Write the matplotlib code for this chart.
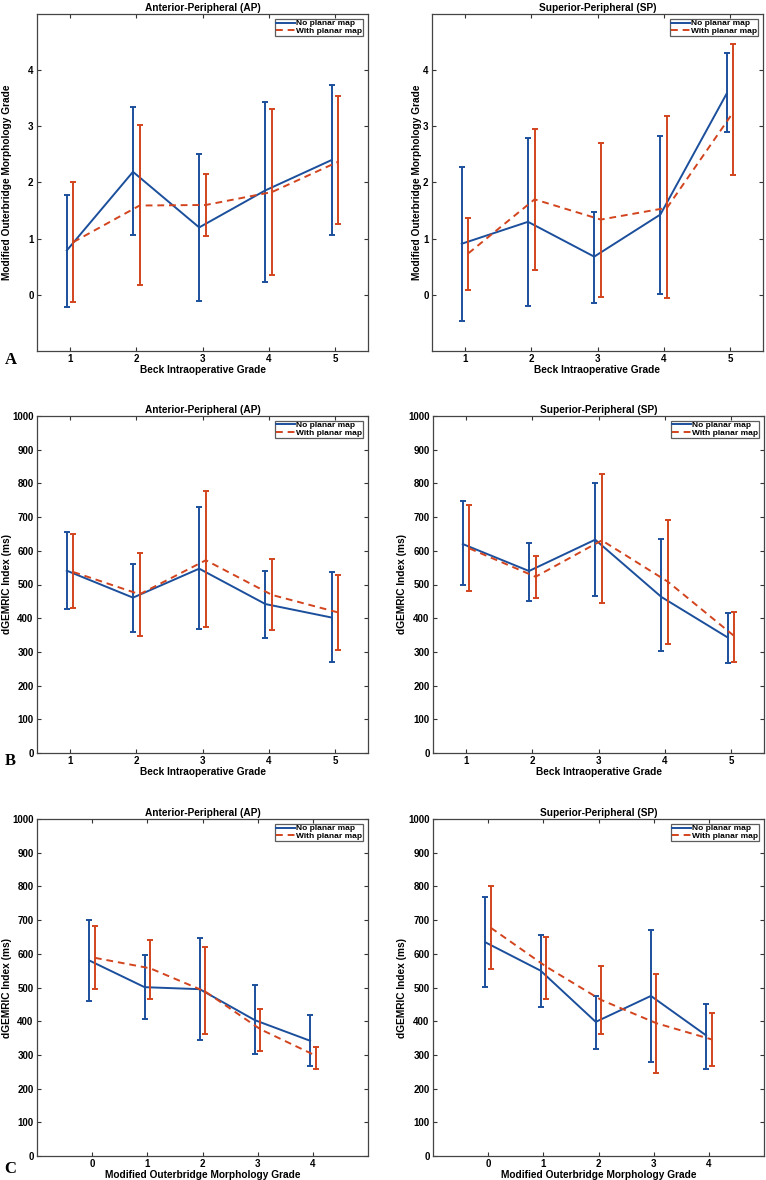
import matplotlib
matplotlib.use('Agg')
import matplotlib.pyplot as plt
import numpy as np

plt.rcParams['font.family'] = ['Liberation Sans', 'DejaVu Sans']
plt.rcParams['font.weight'] = 'bold'
plt.rcParams['axes.labelweight'] = 'bold'
plt.rcParams['axes.titleweight'] = 'bold'

# x categories
beck_grades = [1, 2, 3, 4, 5]
mo_grades = [0, 1, 2, 3, 4]
series_names = ['No planar map', 'With planar map']

# A: Modified Outerbridge grade vs Beck grade
a_ap_no_mean = [0.79, 2.19, 1.20, 1.86, 2.40]
a_ap_no_lo = [-0.22, 1.06, -0.11, 0.23, 1.06]
a_ap_no_hi = [1.78, 3.34, 2.50, 3.44, 3.74]
a_ap_with_mean = [0.94, 1.59, 1.60, 1.83, 2.37]
a_ap_with_lo = [-0.12, 0.17, 1.05, 0.36, 1.26]
a_ap_with_hi = [2.00, 3.03, 2.15, 3.31, 3.54]

a_sp_no_mean = [0.91, 1.30, 0.68, 1.43, 3.58]
a_sp_no_lo = [-0.47, -0.20, -0.15, 0.02, 2.90]
a_sp_no_hi = [2.28, 2.80, 1.48, 2.82, 4.30]
a_sp_with_mean = [0.74, 1.70, 1.34, 1.55, 3.25]
a_sp_with_lo = [0.08, 0.45, -0.03, -0.05, 2.14]
a_sp_with_hi = [1.37, 2.96, 2.70, 3.19, 4.47]

# B: dGEMRIC vs Beck grade
b_ap_no_mean = [541, 461, 547, 442, 402]
b_ap_no_lo = [426, 359, 367, 342, 270]
b_ap_no_hi = [656, 562, 730, 540, 536]
b_ap_with_mean = [537, 471, 572, 469, 417]
b_ap_with_lo = [429, 347, 373, 364, 305]
b_ap_with_hi = [651, 593, 778, 575, 528]

b_sp_no_mean = [620, 540, 633, 463, 343]
b_sp_no_lo = [498, 452, 466, 303, 268]
b_sp_no_hi = [747, 624, 800, 636, 414]
b_sp_with_mean = [607, 523, 631, 508, 347]
b_sp_with_lo = [482, 461, 446, 322, 271]
b_sp_with_hi = [736, 584, 828, 691, 418]

# C: dGEMRIC vs Modified Outerbridge grade
c_ap_no_mean = [580, 501, 495, 403, 342]
c_ap_no_lo = [461, 406, 344, 302, 266]
c_ap_no_hi = [700, 596, 646, 508, 417]
c_ap_with_mean = [588, 557, 488, 376, 298]
c_ap_with_lo = [496, 466, 361, 311, 257]
c_ap_with_hi = [682, 641, 619, 435, 324]

c_sp_no_mean = [634, 550, 398, 475, 358]
c_sp_no_lo = [502, 441, 318, 280, 259]
c_sp_no_hi = [769, 656, 474, 672, 452]
c_sp_with_mean = [677, 562, 463, 394, 346]
c_sp_with_lo = [556, 465, 362, 247, 267]
c_sp_with_hi = [802, 650, 564, 540, 425]

BLUE = '#1b4f9c'
RED = '#d2441e'
W, H = 766, 1180
FS = 7.3
TFS = 7.0

fig = plt.figure(figsize=(W / 100, H / 100), dpi=100)


def make_ax(x0, top, bottom, w=331):
    return fig.add_axes([x0 / W, 1 - bottom / H, w / W, (bottom - top) / H])


def draw(ax, x, no, with_, title, xlabel, ylabel, xlim, ylim, yticks, ylab_x):
    x = np.asarray(x, dtype=float)
    for (m, lo, hi), col, ls, dx, name in [
            (no, BLUE, '-', -0.05, series_names[0]),
            (with_, RED, (0, (3.5, 2.5)), 0.05, series_names[1])]:
        m = np.asarray(m, float)
        err = [m - np.asarray(lo, float), np.asarray(hi, float) - m]
        ax.errorbar(x + dx, m, yerr=err, fmt='none', ecolor=col, elinewidth=1.4,
                    capsize=2.2, capthick=1.4)
        ax.plot(x + dx, m, color=col, ls=ls, lw=1.4, label=name)
    ax.set_xlim(*xlim)
    ax.set_ylim(*ylim)
    ax.set_xticks(x)
    ax.set_yticks(yticks)
    ax.tick_params(direction='in', top=True, right=True, length=3, width=0.8,
                   labelsize=TFS, pad=2.5, color='#333333')
    for s in ax.spines.values():
        s.set_color('#444444')
        s.set_linewidth(0.9)
    ax.set_title(title, fontsize=FS, pad=2.5)
    ax.set_xlabel(xlabel, fontsize=FS, labelpad=0.3)
    ax.set_ylabel(ylabel, fontsize=FS)
    ax.yaxis.set_label_coords(ylab_x, 0.5)
    leg = ax.legend(loc='upper right', fontsize=6.0, frameon=True, fancybox=False,
                    borderpad=0.12, labelspacing=0.0, handlelength=2.3,
                    handletextpad=0.2, borderaxespad=0.55)
    leg.get_frame().set_edgecolor('#333333')
    leg.get_frame().set_linewidth(0.9)


ylab_mo = 'Modified Outerbridge Morphology Grade'
ylab_dg = 'dGEMRIC Index (ms)'
xlab_beck = 'Beck Intraoperative Grade'
xlab_mo = 'Modified Outerbridge Morphology Grade'
t_ap = 'Anterior-Peripheral (AP)'
t_sp = 'Superior-Peripheral (SP)'
dg_ticks = np.arange(0, 1001, 100)

ax = make_ax(37, 14, 351)
draw(ax, beck_grades, (a_ap_no_mean, a_ap_no_lo, a_ap_no_hi),
     (a_ap_with_mean, a_ap_with_lo, a_ap_with_hi), t_ap, xlab_beck, ylab_mo,
     (0.5, 5.5), (-1, 5), [0, 1, 2, 3, 4], -0.075)
ax = make_ax(432, 14, 351)
draw(ax, beck_grades, (a_sp_no_mean, a_sp_no_lo, a_sp_no_hi),
     (a_sp_with_mean, a_sp_with_lo, a_sp_with_hi), t_sp, xlab_beck, ylab_mo,
     (0.5, 5.5), (-1, 5), [0, 1, 2, 3, 4], -0.030)

ax = make_ax(37, 416, 753)
draw(ax, beck_grades, (b_ap_no_mean, b_ap_no_lo, b_ap_no_hi),
     (b_ap_with_mean, b_ap_with_lo, b_ap_with_hi), t_ap, xlab_beck, ylab_dg,
     (0.5, 5.5), (0, 1000), dg_ticks, -0.0755)
ax = make_ax(433, 416, 753)
draw(ax, beck_grades, (b_sp_no_mean, b_sp_no_lo, b_sp_no_hi),
     (b_sp_with_mean, b_sp_with_lo, b_sp_with_hi), t_sp, xlab_beck, ylab_dg,
     (0.5, 5.5), (0, 1000), dg_ticks, -0.0785)

ax = make_ax(37, 819, 1156)
draw(ax, mo_grades, (c_ap_no_mean, c_ap_no_lo, c_ap_no_hi),
     (c_ap_with_mean, c_ap_with_lo, c_ap_with_hi), t_ap, xlab_mo, ylab_dg,
     (-1, 5), (0, 1000), dg_ticks, -0.0755)
ax = make_ax(433, 819, 1156)
draw(ax, mo_grades, (c_sp_no_mean, c_sp_no_lo, c_sp_no_hi),
     (c_sp_with_mean, c_sp_with_lo, c_sp_with_hi), t_sp, xlab_mo, ylab_dg,
     (-1, 5), (0, 1000), dg_ticks, -0.0785)

for letter, yc in [('A', 360), ('B', 761), ('C', 1169)]:
    fig.text(10.5 / W, 1 - yc / H, letter, family=['Liberation Serif', 'DejaVu Serif'],
             fontsize=12, fontweight='bold', ha='center', va='center')

fig.savefig('out.png', dpi=100)
